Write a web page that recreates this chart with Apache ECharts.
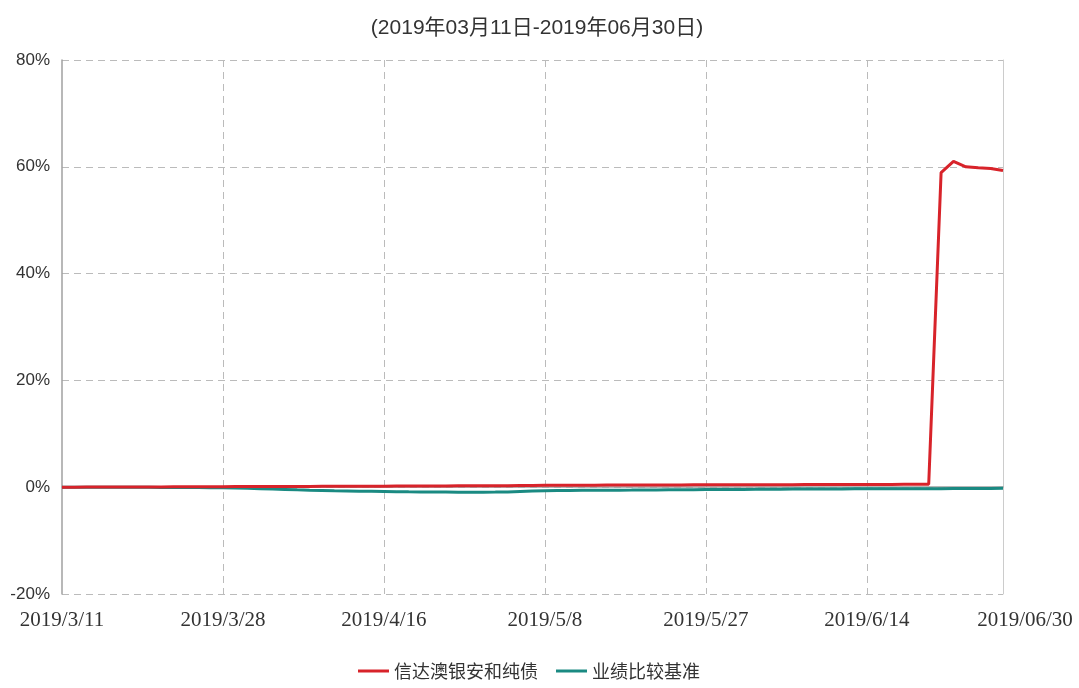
<!DOCTYPE html>
<html>
<head>
<meta charset="utf-8">
<script src="https://cdn.jsdelivr.net/npm/echarts@6/dist/echarts.min.js"></script>
<style>
html,body{margin:0;padding:0;background:#fff;}
#chart{width:1079px;height:688px;}
</style>
</head>
<body>
<div id="chart"></div>
<script>
const titleText = '(2019年03月11日-2019年06月30日)';
const seriesNames = ['信达澳银安和纯债', '业绩比较基准'];
const dates = [
  '2019/3/11','2019/3/12','2019/3/13','2019/3/14','2019/3/15',
  '2019/3/18','2019/3/19','2019/3/20','2019/3/21','2019/3/22',
  '2019/3/25','2019/3/26','2019/3/27','2019/3/28','2019/3/29',
  '2019/4/1','2019/4/2','2019/4/3','2019/4/4','2019/4/5',
  '2019/4/8','2019/4/9','2019/4/10','2019/4/11','2019/4/12',
  '2019/4/15','2019/4/16','2019/4/17','2019/4/18','2019/4/19',
  '2019/4/22','2019/4/23','2019/4/24','2019/4/25','2019/4/26',
  '2019/4/29','2019/4/30',
  '2019/5/6','2019/5/7','2019/5/8','2019/5/9','2019/5/10',
  '2019/5/13','2019/5/14','2019/5/15','2019/5/16','2019/5/17',
  '2019/5/20','2019/5/21','2019/5/22','2019/5/23','2019/5/24',
  '2019/5/27','2019/5/28','2019/5/29','2019/5/30','2019/5/31',
  '2019/6/3','2019/6/4','2019/6/5','2019/6/6',
  '2019/6/10','2019/6/11','2019/6/12','2019/6/13','2019/6/14',
  '2019/6/17','2019/6/18','2019/6/19','2019/6/20','2019/6/21',
  '2019/6/24','2019/6/25','2019/6/26','2019/6/27','2019/6/28',
  '2019/06/30'
];
const fundValues = [
  0.00,0.01,0.02,0.02,0.03, 0.04,0.05,0.05,0.06,0.07,
  0.08,0.08,0.09,0.10,0.11, 0.12,0.12,0.13,0.14,0.14,
  0.15,0.16,0.17,0.18,0.18, 0.19,0.20,0.21,0.22,0.22,
  0.23,0.24,0.25,0.26,0.27, 0.28,0.29,
  0.31,0.33,0.35,0.36,0.37, 0.38,0.38,0.39,0.40,0.40,
  0.41,0.42,0.42,0.43,0.44, 0.45,0.45,0.46,0.46,0.47,
  0.47,0.48,0.48,0.49, 0.49,0.50,0.50,0.51,0.51,
  0.52,0.52,0.53,0.54,0.55,
  58.9,61.0,60.0,59.8,59.7,
  59.3
];
const benchValues = [
  0.00,0.00,-0.01,-0.01,-0.02, -0.02,-0.03,-0.03,-0.04,-0.05,
  -0.06,-0.07,-0.08,-0.10,-0.14, -0.20,-0.27,-0.35,-0.42,-0.50,
  -0.56,-0.61,-0.66,-0.70,-0.74, -0.77,-0.80,-0.83,-0.86,-0.88,
  -0.90,-0.92,-0.94,-0.95,-0.95, -0.92,-0.88,
  -0.80,-0.72,-0.65,-0.62,-0.60, -0.58,-0.57,-0.56,-0.55,-0.54,
  -0.52,-0.51,-0.50,-0.49,-0.47, -0.45,-0.44,-0.42,-0.41,-0.40,
  -0.38,-0.37,-0.36,-0.35, -0.34,-0.33,-0.32,-0.31,-0.30,
  -0.30,-0.29,-0.29,-0.28,-0.28,
  -0.27,-0.26,-0.25,-0.24,-0.23,
  -0.20
];
const yTicks = { min: -20, max: 80, interval: 20 };
const labelStep = 13;

const lastIdx = dates.length - 1;
const showIdx = (i) => i % labelStep === 0 || i === lastIdx;

const chart = echarts.init(document.getElementById('chart'));
chart.setOption({
  animation: false,
  backgroundColor: '#fff',
  title: {
    text: titleText,
    left: 532,
    textAlign: 'center',
    top: 13,
    textStyle: {
      fontFamily: '"Liberation Sans", "Noto Sans CJK SC", sans-serif',
      fontSize: 21, fontWeight: 'normal', color: '#333'
    }
  },
  legend: {
    bottom: 3,
    left: 353,
    icon: 'rect',
    itemWidth: 31,
    itemHeight: 3,
    itemGap: 18,
    textStyle: {
      fontFamily: '"Noto Sans CJK SC", sans-serif',
      fontSize: 18, color: '#333'
    },
    data: seriesNames
  },
  grid: { left: 62, right: 76, top: 60, bottom: 94, containLabel: false },
  xAxis: {
    type: 'category',
    data: dates,
    boundaryGap: false,
    axisLine: { show: true, lineStyle: { color: '#a0a0a0', width: 1.5 } },
    axisTick: { show: false },
    axisLabel: {
      interval: (i) => showIdx(i),
      margin: 16,
      color: '#333',
      fontFamily: '"Liberation Serif", "DejaVu Serif", serif',
      fontSize: 21,
      formatter: (v, i) => i === lastIdx ? '{last|' + v + '}' : v,
      rich: {
        last: {
          fontFamily: '"Liberation Serif", "DejaVu Serif", serif',
          fontSize: 21, color: '#333',
          padding: [0, 0, 6, 44]
        }
      }
    },
    splitLine: {
      show: true,
      interval: (i) => i % labelStep === 0 && i !== 0,
      lineStyle: { color: '#bbb', type: [7, 5], width: 1 }
    }
  },
  yAxis: [{
    type: 'value',
    min: yTicks.min, max: yTicks.max, interval: yTicks.interval,
    axisLine: { show: true, lineStyle: { color: '#a0a0a0', width: 1.5 } },
    axisTick: { show: false },
    axisLabel: {
      formatter: '{value}%',
      margin: 12,
      color: '#333',
      fontFamily: '"Liberation Sans", sans-serif',
      fontSize: 17
    },
    splitLine: { show: true, lineStyle: { color: '#bbb', type: [7, 5], width: 1 } }
  }, {
    type: 'value',
    position: 'right',
    min: yTicks.min, max: yTicks.max, interval: yTicks.interval,
    axisLine: { show: true, lineStyle: { color: '#ccc', width: 1 } },
    axisTick: { show: false },
    axisLabel: { show: false },
    splitLine: { show: false }
  }],
  series: [{
    name: seriesNames[0],
    type: 'line',
    data: fundValues,
    showSymbol: false,
    symbol: 'none',
    z: 3,
    lineStyle: { color: '#d8232a', width: 3 },
    itemStyle: { color: '#d8232a' }
  }, {
    name: seriesNames[1],
    type: 'line',
    data: benchValues,
    showSymbol: false,
    symbol: 'none',
    z: 2,
    lineStyle: { color: '#1a8a82', width: 3 },
    itemStyle: { color: '#1a8a82' }
  }]
});
</script>
</body>
</html>
